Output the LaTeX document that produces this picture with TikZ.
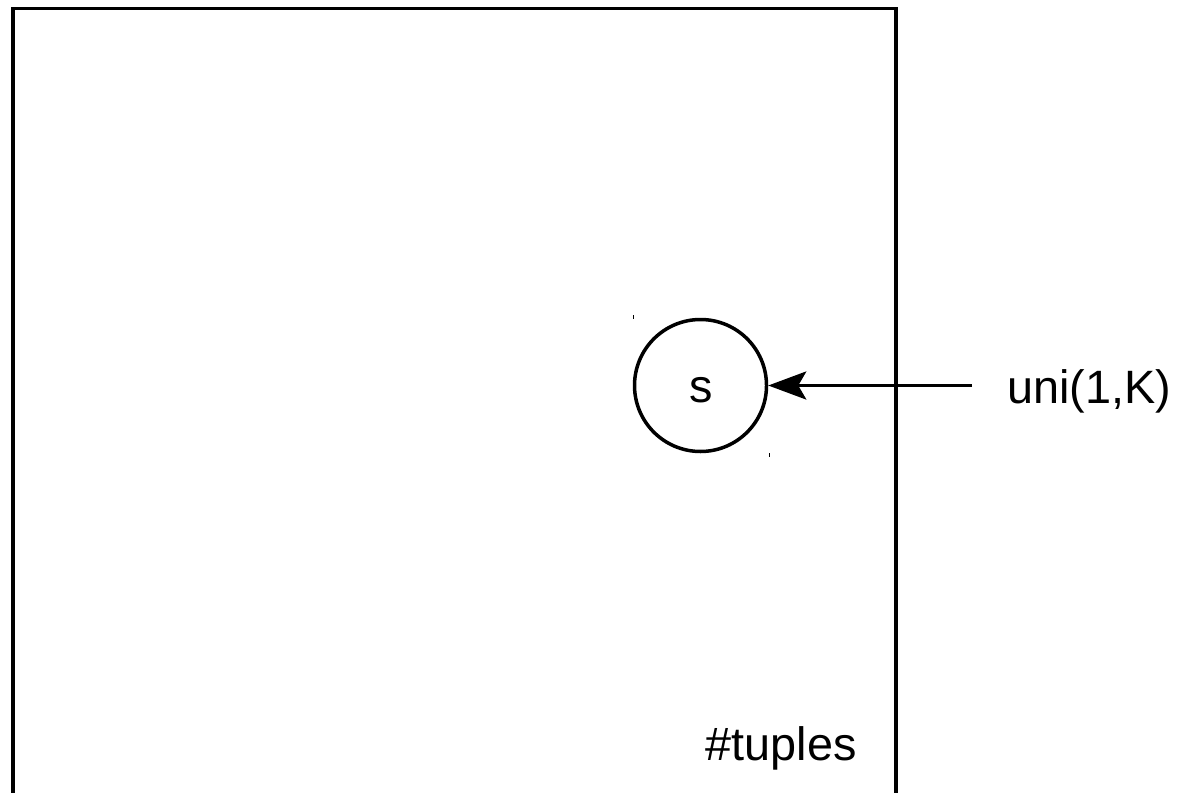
\documentclass[tikz,border=0pt]{standalone}
\usepackage{fontspec}
\setmainfont{Liberation Sans}
\usetikzlibrary{arrows.meta}
\begin{document}
\begin{tikzpicture}[x=0.5pt,y=-0.5pt,
  lbl/.style={inner sep=0pt,font=\fontsize{23.4}{28}\selectfont},
  var/.style={circle,draw,line width=1.75pt,minimum size=66pt,inner sep=0pt,font=\fontsize{23.4}{28}\selectfont},
  tick/.style={line width=0.5pt}]
\useasboundingbox (0,0) rectangle (1187,792);
\draw[line width=1.75pt] (13,810) -- (13,8.5) -- (896,8.5) -- (896,810);
\node[var] (s) at (700.5,385.5) {};
\node[lbl,anchor=base] (sl) at (701,402) {s};
\node[lbl,anchor=base west] (u) at (1007,403) {uni(1,K)};
\node[lbl,anchor=base] (t) at (781,760) {\#tuples};
\coordinate (src) at (972,385.5);
\draw[line width=1.75pt,-{Stealth[length=19pt,width=14pt,inset=4pt]}] (src) -- (s);
\draw[tick] (633,315) -- (633,319);
\draw[tick] (769.5,453) -- (769.5,457);
\end{tikzpicture}
\end{document}
